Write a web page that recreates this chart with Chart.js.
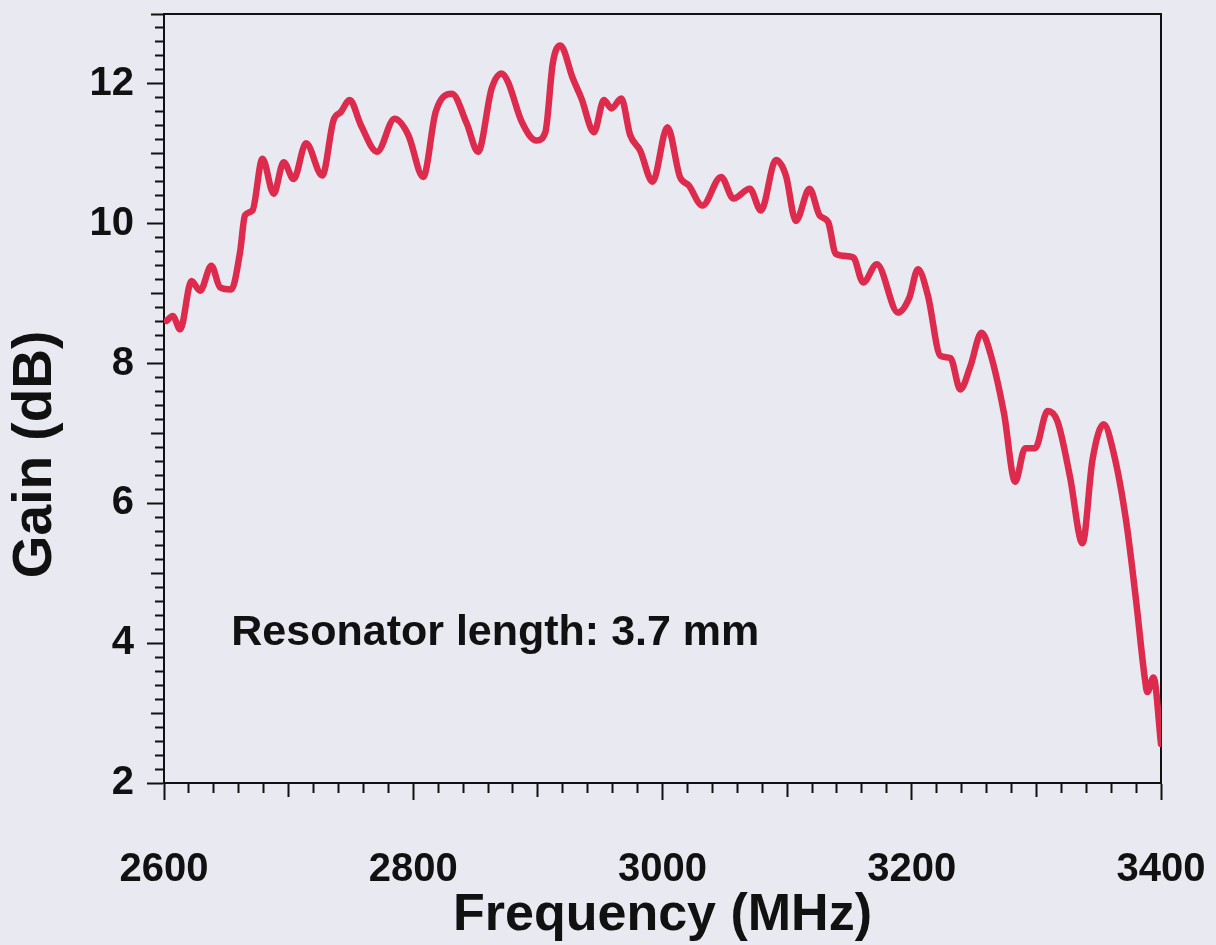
<!DOCTYPE html>
<html>
<head>
<meta charset="utf-8">
<script src="https://cdn.jsdelivr.net/npm/chart.js@4.4.1/dist/chart.umd.min.js"></script>
<style>
  html, body { margin: 0; padding: 0; background: #e9e9f1; }
  #wrap { width: 1216px; height: 945px; position: relative; }
</style>
</head>
<body>
<div id="wrap"><canvas id="c" width="1216" height="945"></canvas></div>
<script>
// ---- data ----
const freqs = [2602, 2607, 2613, 2622, 2629, 2638, 2645, 2654, 2661, 2665, 2671, 2679, 2688, 2696, 2704, 2714,
  2727, 2736, 2742, 2749, 2758, 2771, 2785, 2796, 2808, 2818, 2831, 2843, 2852, 2863, 2871, 2876, 2887, 2899,
  2906, 2912, 2918, 2928, 2935, 2945, 2953, 2959, 2967, 2974, 2982, 2992, 3004, 3014, 3021, 3032, 3047, 3057,
  3070, 3079, 3091, 3099, 3107, 3118, 3126, 3133, 3139, 3153, 3161, 3172, 3189, 3198, 3205, 3213, 3223, 3231,
  3239, 3247, 3256, 3263, 3274, 3283, 3291, 3299, 3309, 3317, 3327, 3337, 3345, 3354, 3362, 3372, 3380, 3387,
  3389, 3394, 3400];
const gains = [8.61, 8.68, 8.49, 9.18, 9.04, 9.40, 9.09, 9.06, 9.59, 10.12, 10.19, 10.93, 10.43, 10.88, 10.64, 11.15,
  10.69, 11.48, 11.60, 11.77, 11.41, 11.03, 11.50, 11.27, 10.67, 11.60, 11.86, 11.43, 11.03, 11.94, 12.15, 12.03, 11.46, 11.19,
  11.31, 12.30, 12.55, 12.08, 11.79, 11.31, 11.77, 11.65, 11.79, 11.27, 11.05, 10.60, 11.38, 10.67, 10.55, 10.26, 10.67, 10.36,
  10.50, 10.19, 10.91, 10.69, 10.04, 10.50, 10.12, 10.02, 9.57, 9.52, 9.16, 9.42, 8.73, 8.94, 9.35, 8.97, 8.11, 8.08,
  7.63, 7.96, 8.44, 8.15, 7.29, 6.31, 6.79, 6.79, 7.32, 7.17, 6.38, 5.43, 6.62, 7.13, 6.72, 5.75, 4.61, 3.50,
  3.30, 3.51, 2.56];
const xTickLabels = [2600, 2800, 3000, 3200, 3400];
const yTickLabels = [2, 4, 6, 8, 10, 12];
const xTitle = 'Frequency (MHz)';
const yTitle = 'Gain (dB)';
const annotationText = 'Resonator length: 3.7 mm';
const annotationPos = { x: 2654, y: 3.97 };

// ---- styling ----
const INK = '#111111';
const LINE = '#dc2b4c';
const FONT = '"Liberation Sans", Arial, Helvetica, sans-serif';
const TL = 17; // longest tick mark

function near(v, step) { return Math.abs(v / step - Math.round(v / step)) < 1e-6; }

function xTickDash(ctx) {
  const v = ctx.tick ? ctx.tick.value : 0;
  if (near(v, 200)) return [];
  if (near(v, 100)) return [13, 1000];
  return [9, 1000];
}
function yTickDash(ctx) {
  const v = ctx.tick ? ctx.tick.value : 0;
  // left axis ticks are drawn from the outer end toward the axis
  if (near(v, 2)) return [];
  if (near(v, 1)) return [0, TL - 13, 13, 1000];
  return [0, TL - 9, 9, 1000];
}

const textPlugin = {
  id: 'texts',
  afterDatasetsDraw(chart) {
    const { ctx, scales } = chart;
    ctx.save();
    ctx.fillStyle = INK;
    ctx.font = 'bold 43px ' + FONT;
    ctx.textAlign = 'left';
    ctx.textBaseline = 'alphabetic';
    ctx.fillText(annotationText, scales.x.getPixelForValue(annotationPos.x), scales.y.getPixelForValue(annotationPos.y));
    // y-axis title, placed like the reference (below the centre of the axis)
    ctx.translate(36, scales.y.getPixelForValue(6.7));
    ctx.rotate(-Math.PI / 2);
    ctx.font = 'bold 55px ' + FONT;
    ctx.textAlign = 'center';
    ctx.textBaseline = 'middle';
    ctx.fillText(yTitle, 0, 0);
    ctx.restore();
  }
};

new Chart(document.getElementById('c'), {
  type: 'line',
  data: {
    datasets: [{
      data: freqs.map((f, i) => ({ x: f, y: gains[i] })),
      borderColor: LINE,
      borderWidth: 6.5,
      pointRadius: 0,
      fill: false,
      cubicInterpolationMode: 'monotone',
      borderJoinStyle: 'round',
      borderCapStyle: 'round'
    }]
  },
  options: {
    responsive: false,
    animation: false,
    devicePixelRatio: 1,
    layout: { padding: 0 },
    plugins: { legend: { display: false }, tooltip: { enabled: false } },
    scales: {
      x: {
        type: 'linear', position: 'bottom', min: 2600, max: 3400,
        afterFit(s) { s.height = 945 - 783; s.paddingLeft = 0; s.paddingRight = 0; },
        border: { display: true, color: INK, width: 2 },
        grid: { drawOnChartArea: false, drawTicks: true, tickLength: TL, tickColor: INK, tickWidth: 2, tickBorderDash: xTickDash },
        ticks: {
          stepSize: 20, autoSkip: false, maxRotation: 0, padding: 46, color: INK,
          font: { family: FONT, size: 40, weight: 'bold' },
          callback(v) { return xTickLabels.some(t => Math.abs(t - v) < 1e-6) ? String(Math.round(v)) : ''; }
        },
        title: { display: true, text: xTitle, color: INK, font: { family: FONT, size: 52, weight: 'bold' }, padding: { top: 0, bottom: -2 } }
      },
      xTop: {
        type: 'linear', position: 'top', min: 2600, max: 3400,
        afterFit(s) { s.height = 14; s.paddingLeft = 0; s.paddingRight = 0; },
        border: { display: true, color: INK, width: 2 },
        grid: { drawOnChartArea: false, drawTicks: false },
        ticks: { display: false }
      },
      y: {
        type: 'linear', position: 'left', min: 2, max: 13,
        afterFit(s) { s.width = 164; s.paddingTop = 0; s.paddingBottom = 0; },
        border: { display: true, color: INK, width: 2 },
        grid: { drawOnChartArea: false, drawTicks: true, tickLength: TL, tickColor: INK, tickWidth: 2, tickBorderDash: yTickDash },
        ticks: {
          stepSize: 0.2, autoSkip: false, padding: 13, color: INK,
          font: { family: FONT, size: 40, weight: 'bold' },
          callback(v) { return yTickLabels.some(t => Math.abs(t - v) < 1e-6) ? String(Math.round(v)) : ''; }
        },
        title: { display: false }
      },
      yRight: {
        type: 'linear', position: 'right', min: 2, max: 13,
        afterFit(s) { s.width = 1216 - 1161; s.paddingTop = 0; s.paddingBottom = 0; },
        border: { display: true, color: INK, width: 2 },
        grid: { drawOnChartArea: false, drawTicks: false },
        ticks: { display: false }
      }
    }
  },
  plugins: [textPlugin]
});
</script>
</body>
</html>
